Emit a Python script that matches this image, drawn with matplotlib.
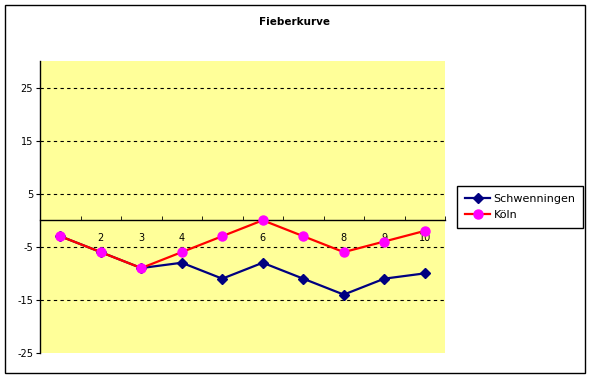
import matplotlib.pyplot as plt
from matplotlib.patches import Rectangle

# data
tage = [1, 2, 3, 4, 5, 6, 7, 8, 9, 10]
schwenningen = [-3, -6, -9, -8, -11, -8, -11, -14, -11, -10]
koeln = [-3, -6, -9, -6, -3, 0, -3, -6, -4, -2]
y_ticks = [-25, -15, -5, 5, 15, 25]

fig = plt.figure(figsize=(5.89, 3.78), dpi=100)
ax = fig.add_axes([40 / 589, 25 / 378, 405 / 589, 292 / 378])
ax.set_facecolor("#FFFF99")

ax.plot(tage, schwenningen, color="#000080", lw=1.6, marker="D", ms=5,
        mfc="#000080", mec="#000080", label="Schwenningen", zorder=3)
ax.plot(tage, koeln, color="#FF0000", lw=1.6, marker="o", ms=6.5,
        mfc="#FF00FF", mec="#FF00FF", label="Köln", zorder=4)

ax.set_xlim(0.5, 10.5)
ax.set_ylim(-25, 30)

# category axis sits on y = 0
ax.spines["bottom"].set_position(("data", 0))
ax.spines["top"].set_visible(False)
ax.spines["right"].set_visible(False)
ax.spines["left"].set_linewidth(1)
ax.spines["bottom"].set_linewidth(1)

ax.set_xticks(tage)
ax.set_xticklabels([str(t) for t in tage])
ax.set_xticks([t + 0.5 for t in [0] + tage], minor=True)
ax.tick_params(axis="x", which="major", length=0, labelsize=7, pad=9)
ax.tick_params(axis="x", which="minor", direction="in", length=3)

ax.set_yticks(y_ticks)
ax.set_yticklabels([str(v) for v in y_ticks])
ax.tick_params(axis="y", length=3, labelsize=7, pad=2)

for v in y_ticks[1:]:
    ax.axhline(v, color="black", lw=0.8, ls=(0, (3, 3)), zorder=1)

fig.text(295 / 589, 1 - 22 / 378, "Fieberkurve", ha="center", va="center",
         fontsize=7.5, fontweight="bold")

leg = fig.legend(loc="center left", bbox_to_anchor=(457 / 589, 1 - 207 / 378),
                 fontsize=8, frameon=True, fancybox=False, edgecolor="black",
                 framealpha=1, borderpad=0.7, handlelength=2.3,
                 handletextpad=0.3, labelspacing=0.55, borderaxespad=0)
leg.get_frame().set_linewidth(1)

# outer chart border
fig.patches.append(Rectangle((5 / 589, 5 / 378), 580 / 589, 368 / 378,
                             transform=fig.transFigure, fill=False,
                             edgecolor="black", lw=1))

fig.savefig("out.png", dpi=100)
